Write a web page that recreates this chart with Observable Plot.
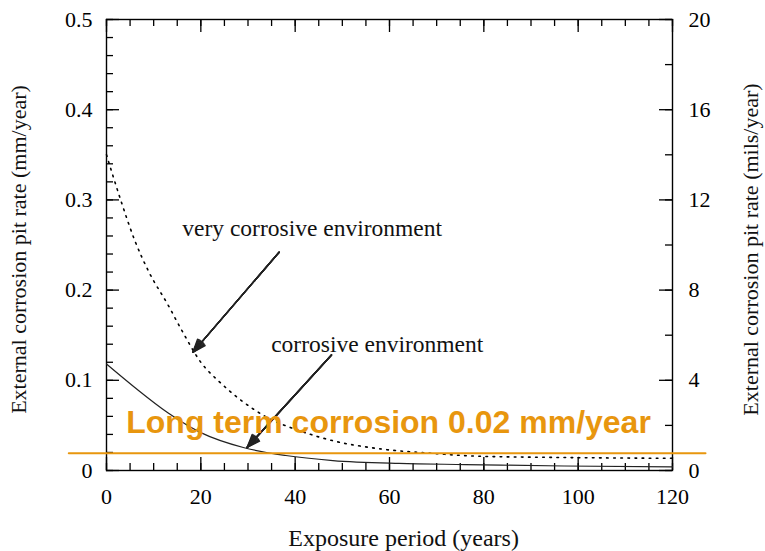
<!DOCTYPE html>
<html><head><meta charset="utf-8">
<script src="https://cdn.jsdelivr.net/npm/d3@7"></script>
<script src="https://cdn.jsdelivr.net/npm/@observablehq/plot@0.6"></script>
<style>
body{margin:0;background:#fff;}
#chart svg{display:block;}
#chart svg text{font-family:"Liberation Serif", "Times New Roman", serif;}
#chart svg .orange-note text{font-family:"Liberation Sans", Arial, sans-serif;}
</style>
</head><body><div id="chart"></div>
<script>
// ---- data ----
const veryYears = [0, 3, 6, 9, 13, 16, 20, 24, 28, 34, 41, 48, 58, 69, 79, 97, 120];
const veryRate  = [0.35, 0.30, 0.255, 0.22, 0.184, 0.155, 0.12, 0.098, 0.080, 0.059, 0.044, 0.033, 0.024, 0.019, 0.0158, 0.0144, 0.0135];
const corrYears = [0, 6, 13, 20, 29, 38, 48, 62, 76, 97, 120];
const corrRate  = [0.118, 0.092, 0.064, 0.042, 0.0255, 0.0166, 0.011, 0.0078, 0.0066, 0.005, 0.004];
const longTermYears = [-8, 127];
const longTermRate = 0.019;
const longTermLabel = "Long term corrosion 0.02 mm/year";

const xTicks = [0, 20, 40, 60, 80, 100, 120];
const xMinorTicks = d3.range(0, 121, 5);
const yTicks = [0, 0.1, 0.2, 0.3, 0.4, 0.5];
const yTickLabels = ["0", "0.1", "0.2", "0.3", "0.4", "0.5"];
const yMinorTicks = d3.range(0, 0.5001, 0.02);
const rightTicks = [0, 0.1, 0.2, 0.3, 0.4, 0.5];
const rightTickLabels = ["0", "4", "8", "12", "16", "20"];
const rightMinorTicks = d3.range(0, 0.5001, 0.05);

const xTitle = "Exposure period (years)";
const yTitle = "External corrosion pit rate (mm/year)";
const y2Title = "External corrosion pit rate (mils/year)";

const notes = [
  {text: "very corrosive environment", x: 43.6, y: 0.268},
  {text: "corrosive environment", x: 57.4, y: 0.140}
];
const arrows = [
  {x1: 36.6, y1: 0.242, x2: 18.3, y2: 0.131},
  {x1: 47.7, y1: 0.128, x2: 29.8, y2: 0.0255}
];
const orangeNote = {x: 59.8, y: 0.053};
const titles = [
  {text: xTitle, x: 63, y: -0.075, rotate: 0, size: 24},
  {text: yTitle, x: -18.6, y: 0.245, rotate: -90, size: 22},
  {text: y2Title, x: 136.6, y: 0.245, rotate: -90, size: 22}
];

// ---- build ----
const ORANGE = "#e8960e";
const very = veryYears.map((x, i) => ({x, y: veryRate[i]}));
const corr = corrYears.map((x, i) => ({x, y: corrRate[i]}));
const longTerm = longTermYears.map(x => ({x, y: longTermRate}));
const W = 765, H = 551, ML = 106, MR = 93, MT = 19, MB = 81;
const FW = W - ML - MR, FH = H - MT - MB;
const tickStyle = {stroke: "black", strokeWidth: 1.3};
const headLayers = [42, 34, 26, 18, 10, 3];

const chart = Plot.plot({
  width: W,
  height: H,
  marginLeft: ML,
  marginRight: MR,
  marginTop: MT,
  marginBottom: MB,
  style: {background: "white", color: "black"},
  x: {domain: [0, 120], axis: null},
  y: {domain: [0, 0.5], axis: null},
  marks: [
    // inward ticks
    Plot.tickY(yMinorTicks, {y: d => d, insetRight: FW - 7, ...tickStyle}),
    Plot.tickY(yTicks, {y: d => d, insetRight: FW - 13, ...tickStyle}),
    Plot.tickY(rightMinorTicks, {y: d => d, insetLeft: FW - 7, ...tickStyle}),
    Plot.tickY(rightTicks, {y: d => d, insetLeft: FW - 13, ...tickStyle}),
    Plot.tickX(xMinorTicks, {x: d => d, insetTop: FH - 7, ...tickStyle}),
    Plot.tickX(xTicks, {x: d => d, insetTop: FH - 13, ...tickStyle}),
    Plot.tickX(xMinorTicks, {x: d => d, insetBottom: FH - 7, ...tickStyle}),
    Plot.tickX(xTicks, {x: d => d, insetBottom: FH - 13, ...tickStyle}),
    // tick labels
    Plot.axisY(yTicks, {anchor: "left", tickSize: 0, tickPadding: 14, fontSize: 22, tickFormat: (d, i) => yTickLabels[i], label: null}),
    Plot.axisY(rightTicks, {anchor: "right", tickSize: 0, tickPadding: 16, fontSize: 22, tickFormat: (d, i) => rightTickLabels[i], label: null}),
    Plot.axisX(xTicks, {anchor: "bottom", tickSize: 0, tickPadding: 18, fontSize: 22, tickFormat: (d, i) => String(xTicks[i]), label: null}),
    // axis titles
    Plot.text(titles, {x: "x", y: "y", text: "text", rotate: "rotate", fontSize: d => d.size, fill: "#111"}),
    Plot.frame({stroke: "black", strokeWidth: 1.4}),
    // curves
    Plot.line(very, {x: "x", y: "y", curve: "monotone-x", stroke: "black", strokeWidth: 1.6, strokeDasharray: "1.6,5.5"}),
    Plot.line(corr, {x: "x", y: "y", curve: "monotone-x", stroke: "#222", strokeWidth: 1.2}),
    // annotations
    Plot.text(notes, {x: "x", y: "y", text: "text", fontSize: 23.5, fill: "#111"}),
    ...headLayers.map(a => Plot.arrow(arrows, {x1: "x1", y1: "y1", x2: "x2", y2: "y2", stroke: "#222", strokeWidth: 1.4, headLength: 15, headAngle: a})),
    Plot.line(longTerm, {x: "x", y: "y", stroke: ORANGE, strokeWidth: 2}),
    Plot.text([longTermLabel], {x: orangeNote.x, y: orangeNote.y, text: d => d, className: "orange-note", fontWeight: "bold", fontSize: 32, fill: ORANGE})
  ]
});
document.getElementById("chart").append(chart);
</script>
</body></html>
